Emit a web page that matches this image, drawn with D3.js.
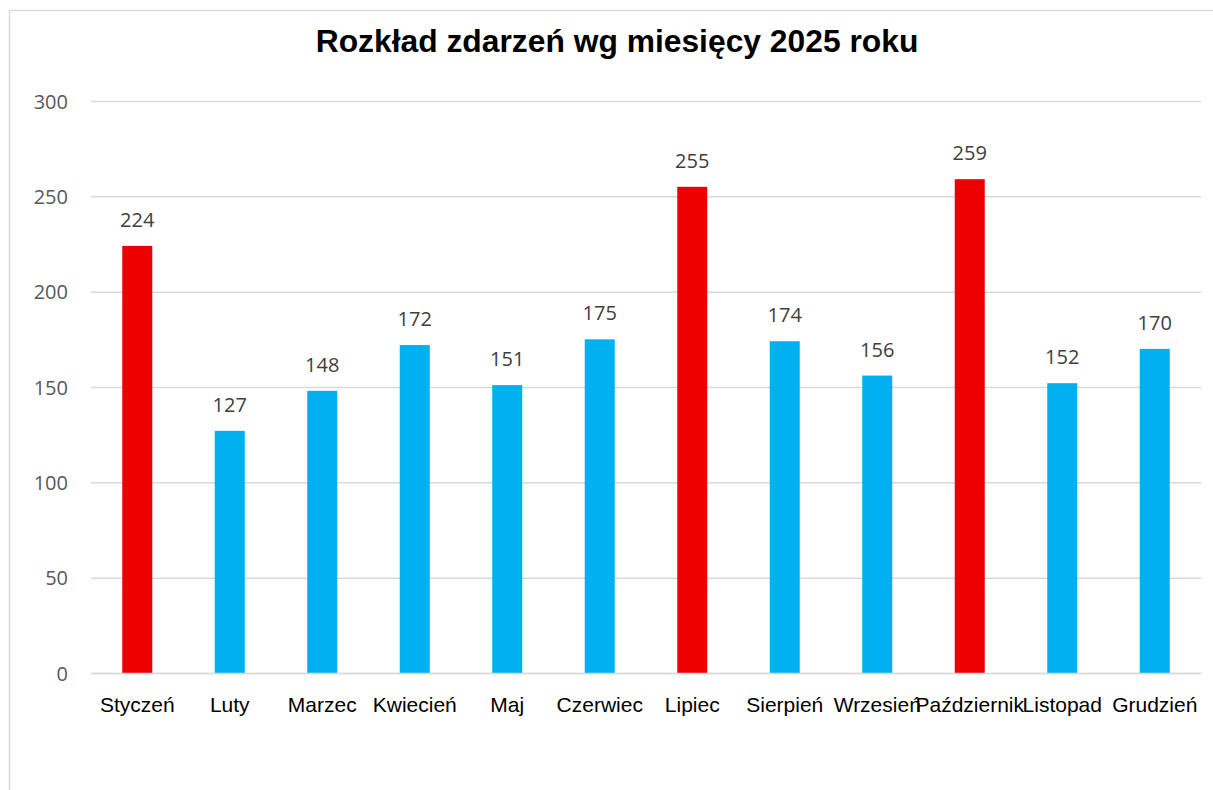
<!DOCTYPE html>
<html>
<head>
<meta charset="utf-8">
<script src="https://cdn.jsdelivr.net/npm/d3@7"></script>
<style>
  body { margin: 0; background: #fff; }
  svg { display: block; }
</style>
</head>
<body>
<div id="chart"></div>
<script>
// dane: liczba zdarzeń w poszczególnych miesiącach
const months = ["Styczeń", "Luty", "Marzec", "Kwiecień", "Maj", "Czerwiec",
                "Lipiec", "Sierpień", "Wrzesień", "Październik", "Listopad", "Grudzień"];
const counts = [224, 127, 148, 172, 151, 175, 255, 174, 156, 259, 152, 170];
const highlighted = ["Styczeń", "Lipiec", "Październik"];
const yTicks = [0, 50, 100, 150, 200, 250, 300];
const title = "Rozkład zdarzeń wg miesięcy 2025 roku";

const width = 1213, height = 790;
const plot = { left: 91, right: 1201, top: 101, bottom: 673 };

const svg = d3.select("#chart").append("svg")
    .attr("width", width)
    .attr("height", height);

// ramka wykresu
svg.append("rect")
    .attr("x", 9.5).attr("y", 10.5)
    .attr("width", 1240).attr("height", 800)
    .attr("fill", "#fff")
    .attr("stroke", "#d9d9d9")
    .attr("stroke-width", 1.5);

const x = d3.scaleBand()
    .domain(months)
    .range([plot.left, plot.right])
    .paddingInner(0.6757)
    .paddingOuter(0.6757 / 2);

const y = d3.scaleLinear()
    .domain([0, 300])
    .range([plot.bottom, plot.top]);

// siatka + oś Y
const yAxis = svg.append("g")
    .attr("transform", `translate(${plot.left},0)`)
    .call(d3.axisLeft(y).tickValues(yTicks).tickSize(-(plot.right - plot.left)).tickPadding(23));
yAxis.select(".domain").remove();
yAxis.selectAll(".tick line")
    .attr("stroke", "#d9d9d9")
    .attr("stroke-width", 1.5);
yAxis.selectAll(".tick text")
    .attr("font-family", "'Open Sans', sans-serif")
    .attr("font-size", "20px")
    .attr("fill", "#595959")
    .attr("dy", "0.35em");

// słupki
svg.selectAll(".bar")
    .data(months)
    .enter()
    .append("rect")
    .attr("class", "bar")
    .attr("x", d => x(d))
    .attr("y", (d, i) => y(counts[i]))
    .attr("width", x.bandwidth())
    .attr("height", (d, i) => y(0) - y(counts[i]))
    .attr("fill", d => highlighted.includes(d) ? "#ee0000" : "#00b0f0");

// etykiety wartości
svg.selectAll(".val")
    .data(months)
    .enter()
    .append("text")
    .attr("class", "val")
    .attr("x", d => x(d) + x.bandwidth() / 2)
    .attr("y", (d, i) => y(counts[i]) - 19)
    .attr("text-anchor", "middle")
    .attr("font-family", "'Open Sans', sans-serif")
    .attr("font-size", "20px")
    .attr("fill", "#404040")
    .text((d, i) => counts[i]);

// oś X
const xAxis = svg.append("g")
    .attr("transform", `translate(0,${plot.bottom})`)
    .call(d3.axisBottom(x).tickSize(0).tickPadding(0));
xAxis.select(".domain")
    .attr("stroke", "#d9d9d9")
    .attr("stroke-width", 1.5);
xAxis.selectAll(".tick text")
    .attr("y", 39)
    .attr("dy", 0)
    .attr("font-family", "'Liberation Sans', Arial, sans-serif")
    .attr("font-size", "21px")
    .attr("fill", "#000");

// tytuł
svg.append("text")
    .attr("x", 617)
    .attr("y", 52)
    .attr("text-anchor", "middle")
    .attr("font-family", "'Liberation Sans', Arial, sans-serif")
    .attr("font-size", "31.8px")
    .attr("font-weight", "bold")
    .attr("fill", "#000")
    .text(title);
</script>
</body>
</html>
